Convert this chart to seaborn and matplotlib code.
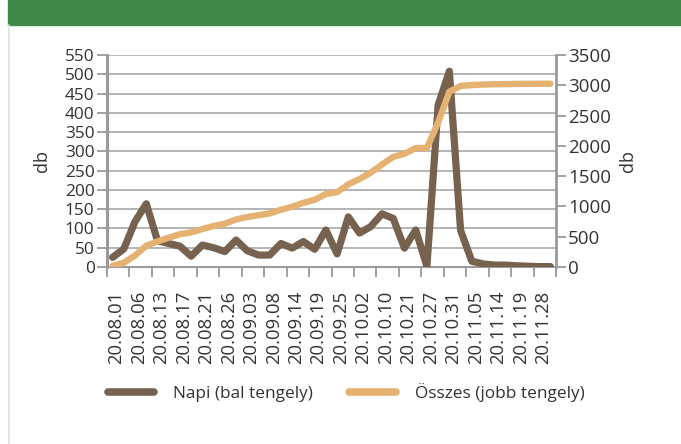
import matplotlib
matplotlib.use("Agg")
import matplotlib.pyplot as plt
from matplotlib.lines import Line2D
from matplotlib.patches import Rectangle
import numpy as np
import pandas as pd
import seaborn as sns

# napi (daily) values, left axis
napi = [25, 47, 118, 164, 68, 61, 54, 28, 57, 50, 40, 70, 42, 31, 31, 61, 49, 66, 46, 96,
        34, 130, 88, 105, 138, 126, 49, 96, 2, 420, 508, 95, 15, 8, 5, 5, 3, 2, 1, 1]
# összes (cumulative) values, right axis
osszes = [20, 70, 190, 352, 422, 484, 542, 570, 627, 677, 715, 785, 825, 855, 885, 945,
          995, 1060, 1110, 1205, 1235, 1365, 1453, 1558, 1693, 1818, 1868, 1963, 1966,
          2386, 2894, 2989, 3004, 3012, 3017, 3020, 3022, 3024, 3025, 3026]
tick_labels = ["20.08.01", "20.08.06", "20.08.13", "20.08.17", "20.08.21", "20.08.26",
               "20.09.03", "20.09.08", "20.09.14", "20.09.19", "20.09.25", "20.10.02",
               "20.10.10", "20.10.21", "20.10.27", "20.10.31", "20.11.05", "20.11.14",
               "20.11.19", "20.11.28"]

df = pd.DataFrame({"idx": np.arange(len(napi)), "napi": napi, "osszes": osszes})

sns.set_theme(style="white")
plt.rcParams["font.family"] = ["Open Sans", "DejaVu Sans"]

brown = "#76624F"
orange = "#E6B272"
grid_c = "#B4B4B6"
spine_c = "#9A9A9C"
text_c = "#333333"

fig = plt.figure(figsize=(6.81, 4.44), dpi=100)
fig.patch.set_facecolor("white")

# page decoration: green header band and left border
fig.add_artist(Rectangle((8 / 681, 1 - 25 / 444), 1, 25 / 444, transform=fig.transFigure,
                         color="#3F8A4A", zorder=0))
fig.add_artist(Line2D([9 / 681, 9 / 681], [0, 1 - 25 / 444], transform=fig.transFigure,
                      color="#E2E2E2", lw=1.2))

ax = fig.add_axes([107 / 681, 1 - 267 / 444, (556 - 107) / 681, (267 - 55) / 444])
ax2 = ax.twinx()

sns.lineplot(data=df, x="idx", y="napi", ax=ax, color=brown, linewidth=5.2,
             legend=False, zorder=3)
sns.lineplot(data=df, x="idx", y="osszes", ax=ax2, color=orange, linewidth=4.6,
             legend=False, zorder=4)

ax.set_xlim(-0.5, len(napi) - 0.5)
ax.set_ylim(0, 550)
ax.set_yticks(np.arange(0, 551, 50))
ax2.set_ylim(0, 3500)
ax2.set_yticks(np.arange(0, 3501, 500))

ax.yaxis.grid(True, color=grid_c, linewidth=1.4)
ax.set_axisbelow(True)

# x axis: tick marks between pairs of categories, labels on every 2nd point
ax.set_xticks(np.arange(-0.5, len(napi), 2))
ax.set_xticklabels([])
ax.set_xticks(np.arange(0, len(napi), 2) + 0.35, minor=True)
ax.set_xticklabels(tick_labels, minor=True, rotation=90, fontsize=13.3, color=text_c)
ax.tick_params(axis="x", which="major", length=7, width=1.3, color=spine_c, bottom=True)
ax.tick_params(axis="x", which="minor", length=0, pad=17)

ax.tick_params(axis="y", length=7.5, width=1.3, color=spine_c, left=True, labelsize=12.4,
               labelcolor=text_c, pad=1.5)
ax2.tick_params(axis="y", length=7, width=1.3, color=spine_c, right=True, labelsize=13.5,
                labelcolor=text_c, pad=1.5)

for a in (ax, ax2):
    for s in a.spines.values():
        s.set_visible(False)
ax.spines["left"].set_visible(True)
ax.spines["left"].set_color(spine_c)
ax.spines["left"].set_linewidth(2.2)
ax.spines["bottom"].set_visible(True)
ax.spines["bottom"].set_color(spine_c)
ax.spines["bottom"].set_linewidth(1.5)
ax2.spines["right"].set_visible(True)
ax2.spines["right"].set_color(spine_c)
ax2.spines["right"].set_linewidth(2.0)

ax.set_xlabel("")
ax.set_ylabel("db", fontsize=13, color=text_c)
ax.yaxis.set_label_coords((51 - 107) / 449, 0.5)
ax2.set_ylabel("db", fontsize=13, color=text_c, rotation=90)
ax2.yaxis.set_label_coords((619 - 107) / 449, 0.5)

handles = [Line2D([], [], color=brown, lw=5.5), Line2D([], [], color=orange, lw=5.5)]
fig.legend(handles, ["Napi (bal tengely)", "Összes (jobb tengely)"], loc="center",
           bbox_to_anchor=(346 / 681, 1 - 393 / 444), ncol=2, frameon=False,
           fontsize=12.4, handlelength=2.7, handletextpad=1.1, columnspacing=2.1,
           labelcolor=text_c)

fig.savefig("out.png", dpi=100, facecolor="white")
